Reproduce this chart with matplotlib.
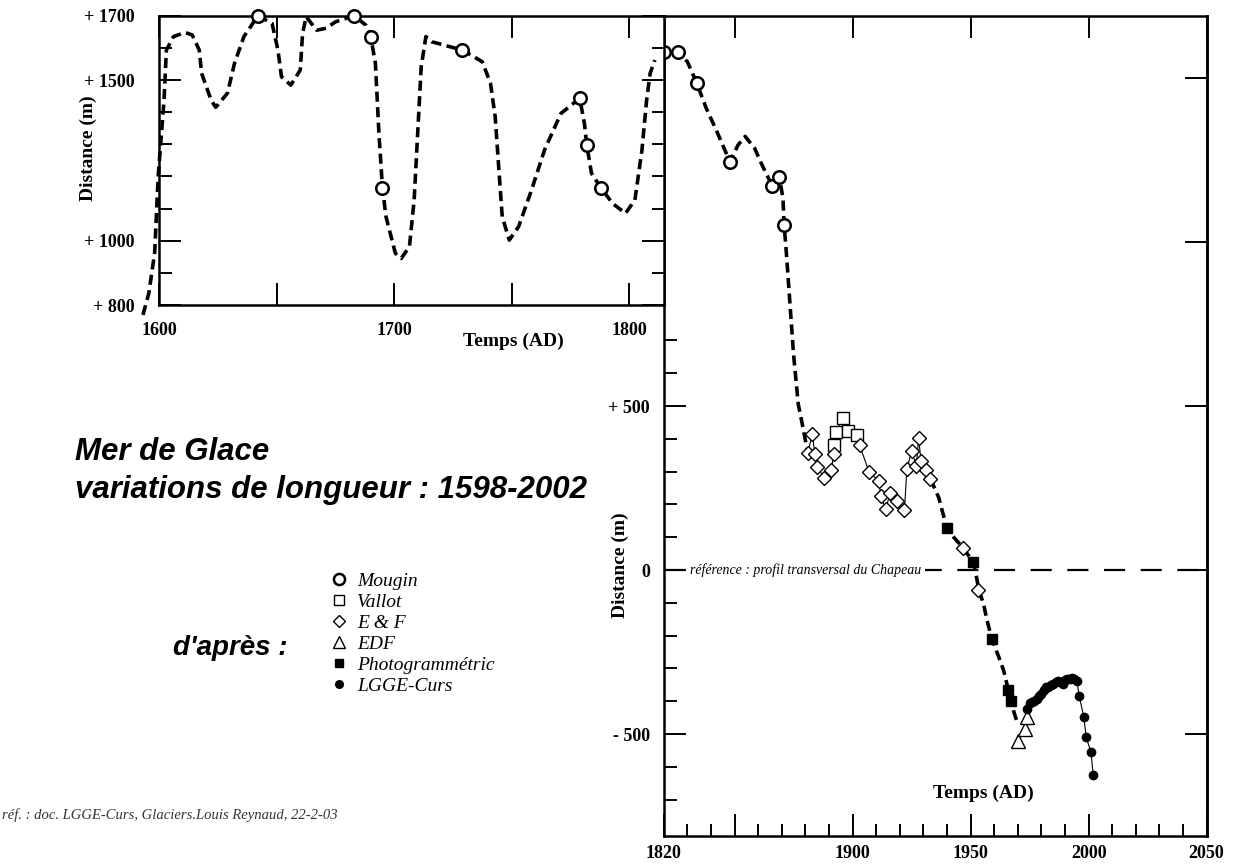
import numpy as np
import matplotlib.pyplot as plt
from matplotlib.lines import Line2D

# Mer de Glace front position (m), relative to the Chapeau cross-profile

# reconstructed curve (heavy dashes), 1593-1881
trend_a_years = [1593, 1595.5, 1598, 1599.5, 1602, 1603, 1606, 1611, 1614, 1617,
                 1618, 1622, 1624, 1629, 1632, 1636, 1642, 1648, 1650.5, 1652,
                 1656, 1660, 1661, 1662.5, 1667, 1671, 1675, 1683, 1688, 1690,
                 1692, 1693.5, 1695, 1696.5, 1700.5, 1703, 1706.5, 1708.5, 1710, 1711.5,
                 1713.5, 1716, 1729, 1737.5, 1741, 1743, 1744.5, 1746, 1749, 1753,
                 1758.5, 1764, 1771, 1779, 1781, 1782, 1784, 1788, 1793, 1798.5,
                 1802.5, 1805.5, 1807.5, 1809, 1811, 1820, 1826, 1830, 1834, 1838,
                 1842.5, 1848, 1851.5, 1854.5, 1858.5, 1861, 1866, 1869, 1870.5, 1871,
                 1872, 1873.5, 1875, 1877, 1879, 1881]
trend_a_vals = [769, 836, 962, 1200, 1438, 1593, 1635, 1648, 1640, 1593,
                1521, 1438, 1415, 1459, 1552, 1635, 1700, 1676, 1593, 1510,
                1484, 1531, 1645, 1697, 1655, 1661, 1681, 1700, 1670, 1635,
                1552, 1334, 1165, 1075, 961, 945, 982, 1127, 1334, 1541,
                1635, 1619, 1593, 1557, 1490, 1386, 1230, 1075, 1002, 1044,
                1158, 1282, 1396, 1443, 1365, 1298, 1210, 1165, 1116, 1085,
                1127, 1282, 1438, 1521, 1562, 1578, 1578, 1550, 1484, 1408,
                1337, 1245, 1296, 1322, 1286, 1245, 1170, 1197, 1134, 1053,
                962, 809, 657, 505, 434, 358]

# reconstructed curve (heavy dashes), 1933-1970
trend_b_years = [1933, 1934, 1936.5, 1938, 1940, 1943, 1947, 1951, 1952, 1953.5,
                 1955.5, 1957, 1959, 1962, 1964, 1966, 1967.5, 1969.5]
trend_b_vals = [277, 262, 221, 180, 129, 99, 66, 25, -2, -60,
                -104, -154, -210, -266, -306, -365, -413, -459]

mougin_years = [1642, 1683, 1690, 1695, 1729, 1779, 1782, 1788,
                1820, 1826, 1834, 1848, 1866, 1869, 1871]
mougin_vals = [1700, 1700, 1635, 1165, 1593, 1443, 1298, 1165,
               1578, 1578, 1484, 1245, 1170, 1197, 1053]

vallot_years = [1892, 1893, 1896, 1898, 1902]
vallot_vals = [380, 421, 462, 424, 412]

ef_years = [1881, 1883, 1884, 1885, 1888, 1891, 1892, 1903, 1907, 1911,
            1912, 1914, 1916, 1919, 1922, 1923, 1925, 1927, 1928, 1929,
            1931, 1933, 1947, 1953]
ef_vals = [358, 414, 353, 314, 282, 304, 353, 380, 299, 272,
           226, 185, 236, 211, 184, 307, 363, 318, 402, 333,
           304, 277, 66, -60]

edf_years = [1970, 1973, 1974]
edf_vals = [-520, -484, -449]

photo_years = [1940, 1951, 1959, 1966, 1967]
photo_vals = [129, 25, -210, -365, -400]

lgge_years = [1974, 1975, 1976, 1977, 1978, 1979, 1980, 1981, 1982, 1983,
              1984, 1985, 1986, 1987, 1988, 1989, 1990, 1991, 1992, 1993,
              1994, 1995, 1996, 1998, 1999, 2001, 2002]
lgge_vals = [-423, -405, -403, -398, -393, -385, -377, -365, -357, -357,
             -352, -347, -342, -337, -342, -347, -335, -332, -332, -330,
             -333, -337, -383, -449, -510, -555, -626]

SERIF = ['Liberation Serif', 'DejaVu Serif']
SANS = ['Liberation Sans', 'DejaVu Sans']
plt.rcParams['font.family'] = SERIF
plt.rcParams['font.weight'] = 'bold'

dash_style = dict(color='black', lw=2.6, ls=(0, (2.8, 1.5)), dash_capstyle='butt')
mougin_style = dict(ls='none', marker='o', ms=9, mfc='white', mec='black', mew=1.8)
vallot_style = dict(ls='none', marker='s', ms=8.5, mfc='white', mec='black', mew=1.0)
ef_style = dict(ls='none', marker='D', ms=7.5, mfc='white', mec='black', mew=1.0)
edf_style = dict(ls='none', marker='^', ms=9.5, mfc='white', mec='black', mew=1.0)
photo_style = dict(ls='none', marker='s', ms=6.5, mfc='black', mec='black')
lgge_style = dict(ls='none', marker='o', ms=6, mfc='black', mec='black')

fig = plt.figure(figsize=(12.43, 8.68), dpi=100)
fig.patch.set_facecolor('white')

# ---- main axes, 1820-2050 ----
ax = fig.add_axes([0.534, 0.0372, 0.4367, 0.9447])
ax.set_xlim(1820, 2050)
ax.set_ylim(-810, 1690)

ta_y = np.array(trend_a_years)
ta_v = np.array(trend_a_vals)
late = ta_y >= 1811
ax.plot(ta_y[late], ta_v[late], zorder=2, **dash_style)
ax.plot(trend_b_years, trend_b_vals, zorder=2, **dash_style)

# thin line through the E & F and Vallot measurements
obs_y = np.array(ef_years + vallot_years)
obs_v = np.array(ef_vals + vallot_vals)
order = np.argsort(obs_y, kind='stable')
obs_y, obs_v = obs_y[order], obs_v[order]
keep = obs_y <= 1933
ax.plot(obs_y[keep], obs_v[keep], color='black', lw=0.8, zorder=3)
ax.plot(lgge_years, lgge_vals, color='black', lw=0.8, zorder=3)

mg_y = np.array(mougin_years)
mg_v = np.array(mougin_vals)
ax.plot(mg_y[mg_y >= 1815], mg_v[mg_y >= 1815], zorder=5, clip_on=False, **mougin_style)
ax.plot(vallot_years, vallot_vals, zorder=4, **vallot_style)
ax.plot(ef_years, ef_vals, zorder=4, **ef_style)
ax.plot(edf_years, edf_vals, zorder=4, **edf_style)
ax.plot(photo_years, photo_vals, zorder=4, **photo_style)
ax.plot(lgge_years, lgge_vals, zorder=4, **lgge_style)

# reference line
ax.axhline(0, color='black', lw=1.6, ls=(0, (9.5, 7)), zorder=1)
ax.text(1831, 0, 'référence : profil transversal du Chapeau', fontsize=10,
        style='italic', weight='normal', ha='left', va='center', zorder=2.5,
        bbox=dict(facecolor='white', edgecolor='none', pad=3))

ax.set_xticks([1820, 1850, 1900, 1950, 2000, 2050],
              ['1820', '', '1900', '1950', '2000', '2050'])
ax.set_xticks(np.arange(1830, 2050, 10), minor=True)
ax.set_yticks([-500, 0, 500], ['- 500', '0', '+ 500'])
ax.set_yticks(np.arange(-700, 800, 100), minor=True)
ax.tick_params(which='both', direction='in', width=1.4, top=True, labelsize=13)
ax.tick_params(which='major', length=16)
ax.tick_params(which='minor', length=9, top=False)
ax.tick_params(axis='x', pad=7)
ax.tick_params(axis='y', pad=10)
for s in ax.spines.values():
    s.set_linewidth(1.8)

right = ax.secondary_yaxis('right')
right.set_yticks([-500, 0, 500, 1000, 1500])
right.tick_params(direction='in', length=16, width=1.4, labelright=False)
right.spines['right'].set_linewidth(1.8)

ax.text(0.588, 0.052, 'Temps (AD)', transform=ax.transAxes,
        ha='center', va='center', fontsize=14)
ax.text(-0.0805, 0.330, 'Distance (m)', transform=ax.transAxes, rotation=90,
        ha='center', va='center', fontsize=14)

# ---- inset, 1600-1815 ----
axi = fig.add_axes([0.1282, 0.6486, 0.4062, 0.3333])
axi.set_facecolor('white')
axi.set_xlim(1600, 1815)
axi.set_ylim(800, 1700)

early = ta_y <= 1811
axi.plot(ta_y[early], ta_v[early], zorder=2, clip_on=False, **dash_style)
axi.plot(mg_y[mg_y < 1815], mg_v[mg_y < 1815], zorder=5, clip_on=False, **mougin_style)

axi.set_xticks([1600, 1650, 1700, 1750, 1800], ['1600', '', '1700', '', '1800'])
axi.set_yticks([800, 1000, 1500, 1700], ['+ 800', '+ 1000', '+ 1500', '+ 1700'])
axi.set_yticks([900, 1100, 1200, 1300, 1400, 1600], minor=True)
axi.tick_params(which='both', direction='in', width=1.4, top=True, right=True,
                labelsize=13)
axi.tick_params(which='major', length=16)
axi.tick_params(which='minor', length=9)
axi.tick_params(axis='x', pad=12)
axi.tick_params(axis='y', pad=18)
for s in axi.spines.values():
    s.set_linewidth(1.8)

axi.text(0.702, -0.127, 'Temps (AD)', transform=axi.transAxes,
         ha='center', va='center', fontsize=14)
axi.text(-0.141, 0.543, 'Distance (m)', transform=axi.transAxes, rotation=90,
         ha='center', va='center', fontsize=14)

# ---- title, sources ----
title_kw = dict(family=SANS, style='italic', weight='bold', va='center')
fig.text(0.0603, 0.4793, 'Mer de Glace', fontsize=22.5, **title_kw)
fig.text(0.0603, 0.4355, 'variations de longueur : 1598-2002', fontsize=22.5, **title_kw)
fig.text(0.139, 0.2535, "d'après :", fontsize=20, **title_kw)

handles = [
    Line2D([], [], ls='none', marker='o', ms=8, mfc='white', mec='black', mew=1.8),
    Line2D([], [], ls='none', marker='s', ms=7, mfc='white', mec='black', mew=1.0),
    Line2D([], [], ls='none', marker='D', ms=6.5, mfc='white', mec='black', mew=1.0),
    Line2D([], [], ls='none', marker='^', ms=8, mfc='white', mec='black', mew=1.0),
    Line2D([], [], ls='none', marker='s', ms=6, mfc='black', mec='black'),
    Line2D([], [], ls='none', marker='o', ms=5.5, mfc='black', mec='black'),
]
labels = ['Mougin', 'Vallot', 'E & F', 'EDF', 'Photogrammétric', 'LGGE-Curs']
fig.legend(handles, labels, loc='upper left', bbox_to_anchor=(0.2647, 0.3410),
           frameon=False, handlelength=1.0, handletextpad=0.45, labelspacing=0.18,
           borderpad=0, borderaxespad=0,
           prop=dict(family=SERIF, style='italic', weight='normal', size=14))

fig.text(0.002, 0.061, 'réf. : doc. LGGE-Curs, Glaciers.Louis Reynaud, 22-2-03',
         style='italic', weight='normal', fontsize=10.5, color='#333333', va='center')

fig.savefig('out.png', dpi=100)
